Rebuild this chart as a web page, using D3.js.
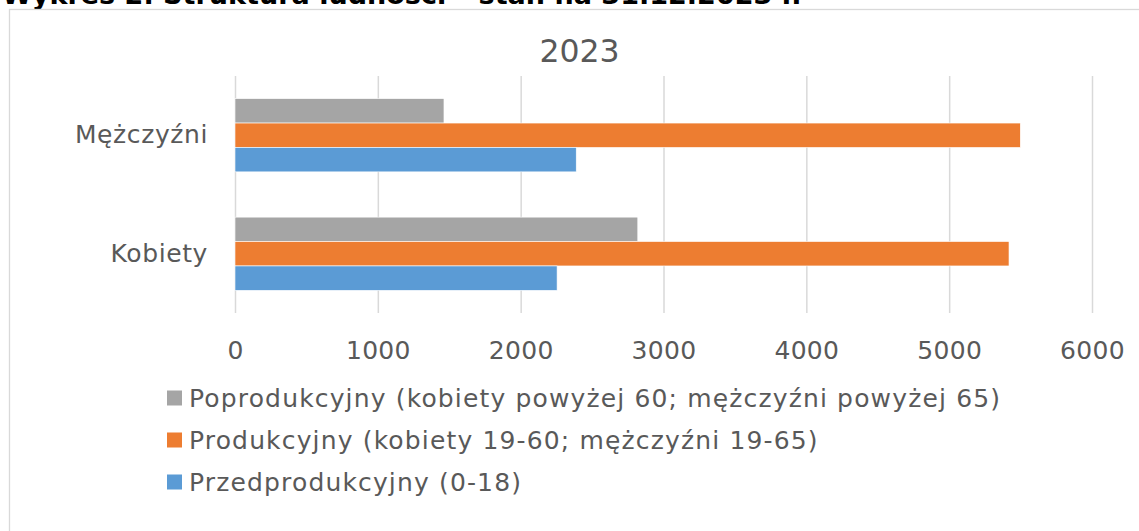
<!DOCTYPE html>
<html>
<head>
<meta charset="utf-8">
<script src="https://cdn.jsdelivr.net/npm/d3@7"></script>
<style>
  html, body { margin: 0; padding: 0; background: #fff; }
  text { font-family: "DejaVu Sans", Verdana, sans-serif; }
</style>
</head>
<body>
<div id="canvas"></div>
<script>
// chart size
var width = 1139;
var height = 531;

// data
var categories = ["Mężczyźni", "Kobiety"]; // top to bottom
var seriesNames = [
  "Poprodukcyjny (kobiety powyżej 60; mężczyźni powyżej 65)",
  "Produkcyjny (kobiety 19-60; mężczyźni 19-65)",
  "Przedprodukcyjny (0-18)"
];
var seriesColors = ["#a5a5a5", "#ed7d31", "#5b9bd5"];
// values in order of categories: [Mężczyźni, Kobiety]
var poprodukcyjny = [1463, 2820];
var produkcyjny = [5498, 5419];
var przedprodukcyjny = [2389, 2255];
var xTicks = [0, 1000, 2000, 3000, 4000, 5000, 6000];
var chartTitle = "2023";
var pageTitle = "Wykres 2. Struktura ludności – stan na 31.12.2023 r.";

var seriesValues = [poprodukcyjny, produkcyjny, przedprodukcyjny];

var svg = d3.select("#canvas")
  .append("svg")
  .attr("width", width)
  .attr("height", height);

svg.append("rect")
  .attr("width", width)
  .attr("height", height)
  .attr("fill", "#fff");

// page heading, cut off by the top edge like in the picture
var head = svg.append("text")
  .attr("x", 2)
  .attr("y", 4)
  .attr("font-weight", "bold")
  .attr("font-size", 22)
  .attr("fill", "#000")
  .text(pageTitle);
// fit to the width seen in the picture
var headLen = head.node().getComputedTextLength();
head.attr("font-size", 22 * 800 / headLen);

// chart frame (right and bottom edges are outside the picture)
svg.append("rect")
  .attr("x", 9.5)
  .attr("y", 9.5)
  .attr("width", width + 20)
  .attr("height", height + 20)
  .attr("fill", "none")
  .attr("stroke", "#d9d9d9")
  .attr("stroke-width", 1.3);

svg.append("text")
  .attr("x", 579.5)
  .attr("y", 62)
  .attr("text-anchor", "middle")
  .attr("font-size", 31.5)
  .attr("fill", "#595959")
  .text(chartTitle);

var plotLeft = 235, plotRight = 1092, plotTop = 76, plotBottom = 313;

var x = d3.scaleLinear()
  .domain([0, 6000])
  .range([plotLeft, plotRight]);

var y = d3.scaleBand()
  .domain(categories)
  .range([plotTop, plotBottom])
  .paddingInner(0.382)
  .paddingOuter(0.191);

var ySeries = d3.scaleBand()
  .domain(seriesNames)
  .range([0, y.bandwidth()]);

// gridlines + tick labels
var xAxis = svg.append("g")
  .attr("transform", "translate(0," + plotBottom + ")")
  .call(d3.axisBottom(x).tickValues(xTicks).tickSize(-(plotBottom - plotTop)).tickPadding(28).tickFormat(d3.format("d")));
xAxis.select(".domain").remove();
xAxis.selectAll(".tick line").attr("stroke", "#d9d9d9").attr("stroke-width", 1.5);
xAxis.selectAll(".tick text")
  .attr("fill", "#595959")
  .style("font-size", "25px")
  .style("letter-spacing", "0.3px")
  .style("font-family", "DejaVu Sans, Verdana, sans-serif");

var yAxis = svg.append("g")
  .attr("transform", "translate(" + plotLeft + ",0)")
  .call(d3.axisLeft(y).tickSize(0).tickPadding(27));
yAxis.select(".domain").remove();
yAxis.selectAll(".tick text")
  .attr("fill", "#595959")
  .style("font-size", "25px")
  .style("letter-spacing", "0.6px")
  .style("font-family", "DejaVu Sans, Verdana, sans-serif");

// bars
seriesNames.forEach((name, i) => {
  svg.append("g")
    .selectAll("rect")
    .data(seriesValues[i])
    .enter()
    .append("rect")
    .attr("x", x(0))
    .attr("y", (d, j) => y(categories[j]) + ySeries(name))
    .attr("width", d => x(d) - x(0))
    .attr("height", ySeries.bandwidth())
    .attr("fill", seriesColors[i])
    .attr("stroke", "#fff")
    .attr("stroke-width", 0.6);
});

// legend
var legend = svg.append("g");
var legendRows = [398, 440, 482];
seriesNames.forEach((name, i) => {
  legend.append("rect")
    .attr("x", 167)
    .attr("y", legendRows[i] - 7.5)
    .attr("width", 15)
    .attr("height", 15)
    .attr("fill", seriesColors[i]);
  legend.append("text")
    .attr("x", 189)
    .attr("y", legendRows[i])
    .attr("dy", "0.35em")
    .attr("font-size", 25)
    .style("letter-spacing", "1.15px")
    .attr("fill", "#595959")
    .text(name);
});
</script>
</body>
</html>
